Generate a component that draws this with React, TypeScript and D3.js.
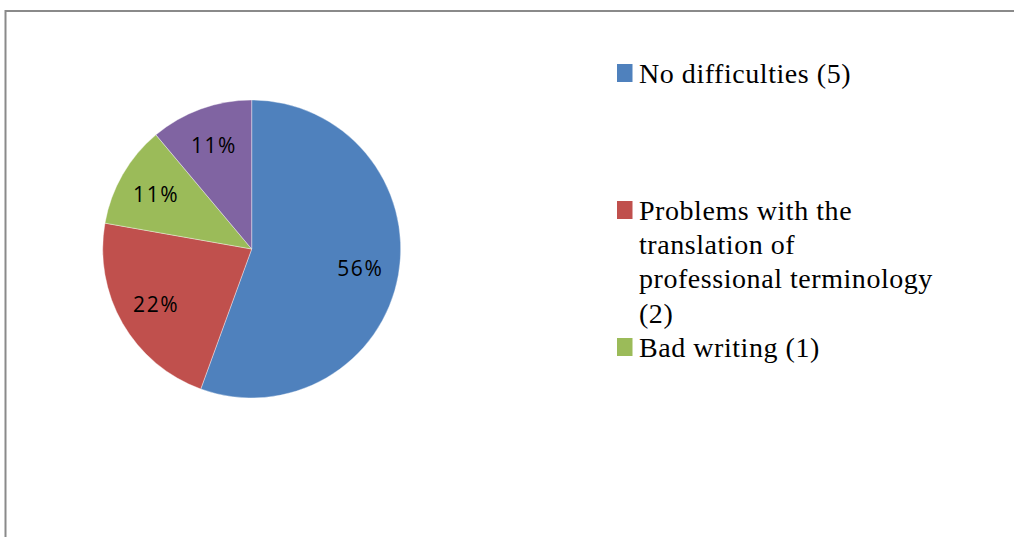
import React from "react";
import * as d3 from "d3";

const categories = [
  "No difficulties (5)",
  "Problems with the translation of professional terminology (2)",
  "Bad writing (1)",
  "Other (1)",
];
const values = [5, 2, 1, 1];
const colors = ["#4f81bd", "#c0504d", "#9bbb59", "#8064a2"];
const legendCount = 3;

const W = 1014;
const H = 537;
const CX = 251.7;
const CY = 249;
const R = 149;
const LABEL_R = 0.74 * R;

const LEGEND_X = 617;
const LEGEND_TEXT_X = 639;
const LEGEND_TOP = 83;
const LEGEND_SLOT = 137;
const LINE_H = 34.2;
const WRAP_W = 298;
const LEGEND_FAMILY = "'Liberation Serif', 'Times New Roman', serif";
const LEGEND_SIZE = 28;
const LEGEND_LS = 0.55;

function measure(text: string): number {
  const ns = "http://www.w3.org/2000/svg";
  const svg = document.createElementNS(ns, "svg");
  svg.setAttribute("style", "position:absolute;left:-9999px;top:-9999px");
  const t = document.createElementNS(ns, "text");
  t.setAttribute("font-family", LEGEND_FAMILY);
  t.setAttribute("font-size", String(LEGEND_SIZE));
  t.setAttribute("letter-spacing", String(LEGEND_LS));
  t.textContent = text;
  svg.appendChild(t);
  document.body.appendChild(svg);
  let w = 0;
  try {
    w = t.getComputedTextLength();
  } catch (e) {
    w = text.length * 12;
  }
  document.body.removeChild(svg);
  return w;
}

function wrap(text: string, maxW: number): string[] {
  const words = text.split(" ");
  const lines: string[] = [];
  let cur = "";
  for (const w of words) {
    const test = cur ? cur + " " + w : w;
    if (cur && measure(test) > maxW) {
      lines.push(cur);
      cur = w;
    } else {
      cur = test;
    }
  }
  if (cur) lines.push(cur);
  return lines;
}

export default function App() {
  const pie = d3
    .pie<number>()
    .sort(null)
    .value((d) => d);
  const arcs = pie(values);
  const arc = d3.arc<d3.PieArcDatum<number>>().innerRadius(0).outerRadius(R);
  const labelArc = d3
    .arc<d3.PieArcDatum<number>>()
    .innerRadius(LABEL_R)
    .outerRadius(LABEL_R);
  const total = d3.sum(values);
  const fmt = d3.format(".0%");

  return (
    <svg
      width={W}
      height={H}
      style={{ position: "absolute", left: 0, top: 0, background: "#fff" }}
    >
      <rect x={0} y={0} width={W} height={H} fill="#fff" />
      <rect
        x={5.5}
        y={11}
        width={W + 100}
        height={H + 100}
        fill="#fff"
        stroke="#8a8a8a"
        strokeWidth={2}
      />
      <g transform={`translate(${CX},${CY})`}>
        {arcs.map((a, i) => (
          <path
            key={i}
            d={arc(a) || ""}
            fill={colors[i]}
            stroke="#ffffff"
            strokeOpacity={0.5}
            strokeWidth={0.75}
          />
        ))}
        {arcs.map((a, i) => {
          const [x, y] = labelArc.centroid(a);
          return (
            <text
              key={"l" + i}
              x={x}
              y={y + 8}
              textAnchor="middle"
              fontFamily="'Open Sans', sans-serif"
              fontSize={21}
              letterSpacing={1.6}
              fill="#000"
            >
              {fmt(a.data / total)}
            </text>
          );
        })}
      </g>
      <g>
        {categories.slice(0, legendCount).map((c, i) => {
          const baseY = LEGEND_TOP + i * LEGEND_SLOT;
          const lines = wrap(c, WRAP_W);
          return (
            <g key={"lg" + i}>
              <rect
                x={LEGEND_X}
                y={baseY - 19}
                width={15.5}
                height={18}
                fill={colors[i]}
              />
              <text
                x={LEGEND_TEXT_X}
                y={baseY}
                fontFamily={LEGEND_FAMILY}
                fontSize={LEGEND_SIZE}
                letterSpacing={LEGEND_LS}
                fill="#000"
              >
                {lines.map((ln, j) => (
                  <tspan key={j} x={LEGEND_TEXT_X} y={baseY + j * LINE_H}>
                    {ln}
                  </tspan>
                ))}
              </text>
            </g>
          );
        })}
      </g>
    </svg>
  );
}
